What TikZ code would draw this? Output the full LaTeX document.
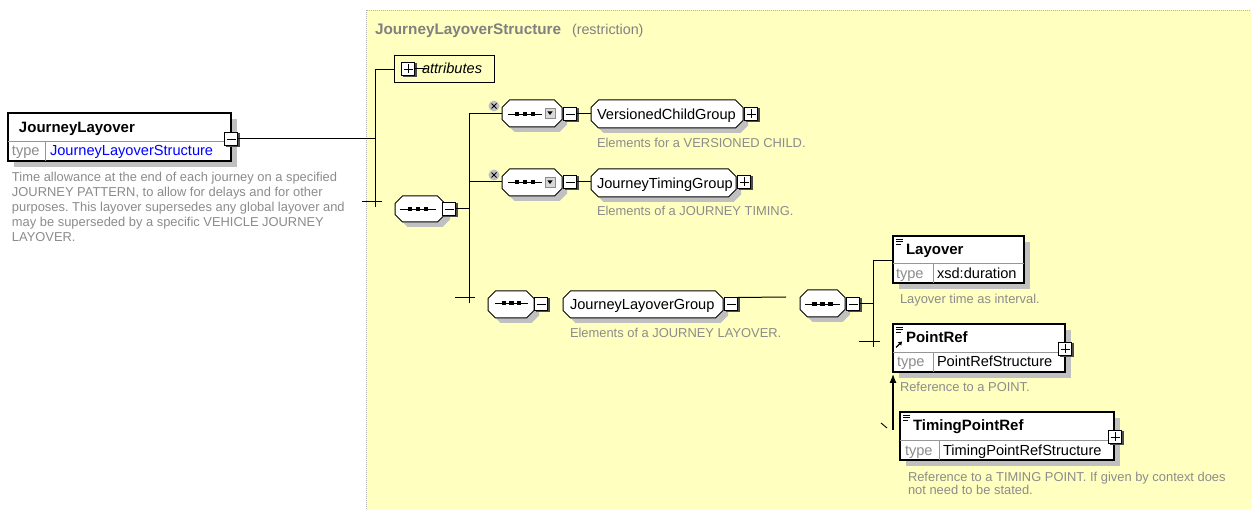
\documentclass[tikz,border=0pt]{standalone}
\usepackage{fontspec}
\setmainfont{Liberation Sans}
\usetikzlibrary{fit,arrows.meta}
\definecolor{bgyellow}{RGB}{255,255,192}
\definecolor{shadowgrey}{RGB}{192,192,192}
\definecolor{descgrey}{RGB}{140,140,140}
\definecolor{titlegrey}{RGB}{128,128,128}
\definecolor{linegrey}{RGB}{150,150,150}
\definecolor{typeblue}{RGB}{0,0,255}
\tikzset{
  every node/.style={inner sep=0pt, outer sep=0pt},
  lbl/.style={font=\fontsize{14.6}{17}\selectfont, anchor=base west},
  blbl/.style={font=\fontsize{15}{18}\selectfont\bfseries, anchor=base west},
  desc/.style={font=\fontsize{12.9}{15}\selectfont, text=descgrey, anchor=base west},
  typelbl/.style={lbl, text=descgrey},
  conn/.style={line width=1pt},
}
\newcommand\octpath[4]{(#1+7.5,#2) -- (#3-7.5,#2) -- (#3,#2+7.5) -- (#3,#4-7.5) -- (#3-7.5,#4) -- (#1+7.5,#4) -- (#1,#4-7.5) -- (#1,#2+7.5) -- cycle}
\newcommand\octo[5]{%
  \fill[shadowgrey, shift={(5,5)}] \octpath{#2}{#3}{#4}{#5};
  \draw[fill=white, line width=1pt] \octpath{#2}{#3}{#4}{#5};
  \node[fit={(#2,#3) (#4,#5)}] (#1) {};
}
\newcommand\elbox[7]{%
  \fill[shadowgrey] (#2+6,#3+6) rectangle (#4+6,#5+6);
  \node[fit={(#2,#3) (#4,#5)}, draw, fill=white, line width=1.1pt] (#1) {};
  \draw[linegrey] (#2,#6) -- (#4,#6);
  \draw[linegrey] (#7,#6) -- (#7,#5);
}
\newcommand\btnbase[3]{%
  \fill[black!70] (#2-5.5,#3-5.5) rectangle (#2+8.5,#3+8.5);
  \node[draw, fill=white, line width=1pt, minimum size=13pt] (#1) at (#2,#3) {};
  \draw[line width=0.9pt] (#2-4.5,#3) -- (#2+4.5,#3);
}
\newcommand\minusbtn[3]{\btnbase{#1}{#2}{#3}}
\newcommand\plusbtn[3]{\btnbase{#1}{#2}{#3}\draw[line width=0.9pt] (#2,#3-4.5) -- (#2,#3+4.5);}
\newcommand\seqicon[3]{%
  \draw[line width=0.9pt] (#1,#3) -- (#2,#3);
  \fill ({#1+(#2-#1)*0.27-2.2},#3-2.2) rectangle ++(4.4,4.4);
  \fill ({#1+(#2-#1)*0.5-2.2},#3-2.2) rectangle ++(4.4,4.4);
  \fill ({#1+(#2-#1)*0.73-2.2},#3-2.2) rectangle ++(4.4,4.4);
}
\newcommand\choicemark[2]{%
  \fill[shadowgrey] (#1,#2) circle (5.5);
  \draw[line width=0.9pt] (#1-2.5,#2-2.5) -- (#1+2.5,#2+2.5) (#1-2.5,#2+2.5) -- (#1+2.5,#2-2.5);
}
\newcommand\dropicon[2]{%
  \draw[fill=black!15, draw=black!45] (#1,#2) rectangle (#1+10,#2+10);
  \fill (#1+2.3,#2+3.3) -- (#1+7.7,#2+3.3) -- (#1+5,#2+7) -- cycle;
}
\newcommand\elicon[2]{%
  \draw[line width=0.7pt] (#1,#2) -- (#1+7,#2) (#1,#2+2.5) -- (#1+7,#2+2.5) (#1,#2+5) -- (#1+5,#2+5);
}
\begin{document}
\frenchspacing
\begin{tikzpicture}[x=1pt,y=-1pt]
\useasboundingbox (0,0) rectangle (1251,510);
\fill[white] (0,0) rectangle (1251,510);
% panel
\node[fit={(366,10) (1251,512)}, fill=bgyellow, draw=black!30, dash pattern=on 1pt off 1pt] (panel) {};
\node[font=\fontsize{15.3}{18}\selectfont\bfseries, text=titlegrey, anchor=base west] (ttl) at (375,35) {JourneyLayoverStructure};
\node[font=\fontsize{14.3}{17}\selectfont, text=titlegrey, anchor=base west] (ttlr) at (572,35) {(restriction)};

% JourneyLayover element
\elbox{jl}{8}{113}{231}{161}{141}{45}
\node[blbl] (jlname) at (19,133) {JourneyLayover};
\node[typelbl] (jltype) at (12,156) {type};
\node[lbl, text=typeblue] (jltypev) at (50,156) {JourneyLayoverStructure};
\minusbtn{jlbtn}{231}{139}
\node[desc] (jld1) at (12,182) {Time allowance at the end of each journey on a specified};
\node[desc] (jld2) at (12,197) {JOURNEY PATTERN, to allow for delays and for other};
\node[desc] (jld3) at (12,212) {purposes. This layover supersedes any global layover and};
\node[desc] (jld4) at (12,227) {may be superseded by a specific VEHICLE JOURNEY};
\node[desc] (jld5) at (12,242) {LAYOVER.};

% vertical bar A
\coordinate (a1) at (375,70);
\coordinate (a2) at (375,207);
\coordinate (ajl) at (375,139);
\coordinate (at1) at (362,202);
\coordinate (at2) at (382,202);
\draw[conn] (a1) -- (a2);
\draw[conn] (jlbtn.east) -- (ajl);
\draw[conn] (at1) -- (at2);

% attributes
\node[fit={(394,55) (494,82)}, draw, fill=bgyellow, line width=0.9pt] (attr) {};
\draw[conn] (a1) -- (a1 -| attr.west);
\plusbtn{attrbtn}{408}{69}
\coordinate (attrl) at (427,69);
\draw[conn] (attrbtn.east) -- (attrl);
\node[lbl, font=\fontsize{14.6}{17}\selectfont\itshape] (attrt) at (422,74) {attributes};

% sequence 1
\octo{seq1}{395}{196}{445}{222}
\seqicon{400}{436}{209}
\minusbtn{seq1btn}{449}{209}
\coordinate (b1) at (469,114);
\coordinate (b2) at (469,303);
\coordinate (bs) at (469,209);
\coordinate (bc) at (469,182);
\coordinate (bt1) at (455,298);
\coordinate (bt2) at (475,298);
\draw[conn] (b1) -- (b2);
\draw[conn] (seq1btn.east) -- (bs);
\draw[conn] (bt1) -- (bt2);

% choice 1
\octo{ch1}{502}{100}{562}{127}
\draw[conn] (b1) -- (b1 -| ch1.west);
\choicemark{494}{106}
\seqicon{508}{542}{114}
\dropicon{545}{108}
\minusbtn{ch1btn}{570}{114}
\octo{vcg}{591}{100}{743}{128}
\draw[conn] (ch1btn.east) -- (ch1btn.east -| vcg.west);
\node[lbl] (vcgt) at (597,120) {VersionedChildGroup};
\plusbtn{vcgbtn}{751}{114}
\node[desc] (vcgd) at (597,148) {Elements for a VERSIONED CHILD.};

% choice 2
\octo{ch2}{502}{169}{562}{196}
\draw[conn] (bc) -- (bc -| ch2.west);
\choicemark{494}{175}
\seqicon{508}{542}{182}
\dropicon{545}{177}
\minusbtn{ch2btn}{570}{182}
\octo{jtg}{591}{169}{736}{197}
\draw[conn] (ch2btn.east) -- (ch2btn.east -| jtg.west);
\node[lbl] (jtgt) at (597,189) {JourneyTimingGroup};
\plusbtn{jtgbtn}{744}{182}
\node[desc] (jtgd) at (597,216) {Elements of a JOURNEY TIMING.};

% sequence 3 and JourneyLayoverGroup
\octo{seq3}{488}{291}{534}{318}
\seqicon{495}{528}{303}
\minusbtn{seq3btn}{541}{304}
\octo{jlg}{563}{291}{723}{318}
\node[lbl] (jlgt) at (570,310) {JourneyLayoverGroup};
\minusbtn{jlgbtn}{731}{304}
\coordinate (jlgend) at (786,297);
\draw[conn] (jlgbtn.north east) -- (jlgend);
\node[desc] (jlgd) at (570,338) {Elements of a JOURNEY LAYOVER.};

% sequence 4
\octo{seq4}{800}{290}{845}{317}
\seqicon{805}{840}{304}
\minusbtn{seq4btn}{853}{304}
\coordinate (c1) at (873,261);
\coordinate (c2) at (873,347);
\coordinate (cs) at (873,304);
\coordinate (ct1) at (859,342);
\coordinate (ct2) at (880,342);
\draw[conn] (c1) -- (c2);
\draw[conn] (seq4btn.east) -- (cs);
\draw[conn] (ct1) -- (ct2);

% Layover
\elbox{lay}{893}{236}{1024}{283}{263}{933}
\draw[conn] (c1) -- (c1 -| lay.west);
\elicon{896}{239}
\node[blbl] (layt) at (906,255) {Layover};
\node[typelbl] (layty) at (896,279) {type};
\node[lbl] (laytv) at (937,279) {xsd:duration};
\node[desc] (layd) at (900,304) {Layover time as interval.};

% PointRef
\elbox{pr}{893}{324}{1065}{372}{352}{933}
\elicon{896}{327}
\draw[line width=1.3pt, -{Triangle[length=3.5pt,width=4.5pt]}] (896,347.5) -- (902,341.5);
\node[blbl] (prt) at (906,343) {PointRef};
\node[typelbl] (prty) at (897,367) {type};
\node[lbl] (prtv) at (937,367) {PointRefStructure};
\plusbtn{prbtn}{1065}{349}
\node[desc] (prd) at (900,392) {Reference to a POINT.};

% TimingPointRef
\elbox{tpr}{900}{412}{1114}{460}{440}{939}
\elicon{903}{415}
\node[blbl] (tprt) at (913,431) {TimingPointRef};
\node[typelbl] (tprty) at (905,456) {type};
\node[lbl] (tprtv) at (943,456) {TimingPointRefStructure};
\plusbtn{tprbtn}{1115}{437}
\node[desc] (tprd1) at (908,482) {Reference to a TIMING POINT. If given by context does};
\node[desc] (tprd2) at (908,495) {not need to be stated.};
\coordinate (subst) at (893,430);
\coordinate (prtip) at (893,374);
\draw[line width=1.2pt, -{Latex[length=9pt,width=7pt]}] (subst) -- (prtip);
\coordinate (tk1) at (881,423);
\coordinate (tk2) at (887,428);
\draw[line width=0.9pt] (tk1) -- (tk2);
\end{tikzpicture}
\end{document}
